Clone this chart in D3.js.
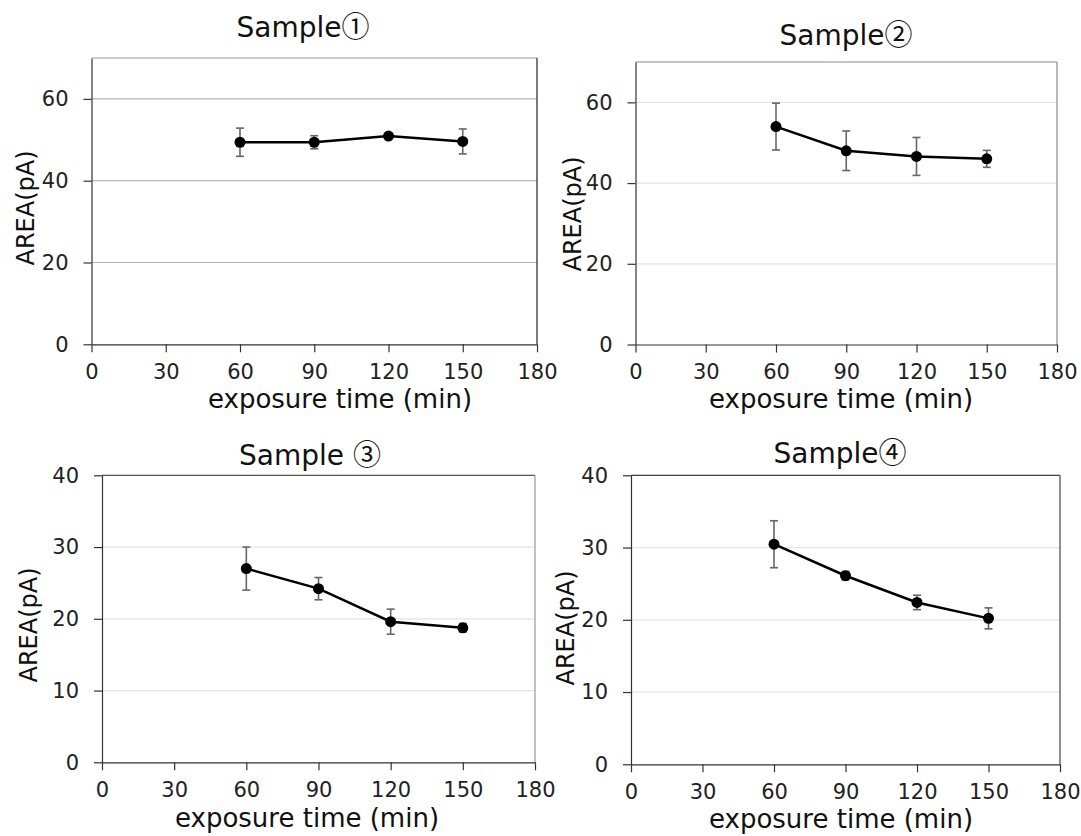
<!DOCTYPE html>
<html>
<head>
<meta charset="utf-8">
<script src="https://cdn.jsdelivr.net/npm/d3@7"></script>
<style>
  body { margin: 0; background: #fff; }
  text { font-family: "DejaVu Sans", sans-serif; }
</style>
</head>
<body>
<div id="chart"></div>
<script>
// data
var titles = ["Sample", "Sample", "Sample ", "Sample"];
var circled = ["①", "②", "③", "④"];
var times = [60, 90, 120, 150];
var xTicks = [0, 30, 60, 90, 120, 150, 180];

var area1 = [49.4, 49.4, 50.9, 49.6];
var err1  = [3.45, 1.6, 0.5, 3.05];
var area2 = [54.0, 48.0, 46.6, 46.0];
var err2  = [5.8, 4.9, 4.7, 2.1];
var area3 = [27.0, 24.2, 19.6, 18.75];
var err3  = [3.0, 1.55, 1.75, 0.6];
var area4 = [30.46, 26.1, 22.4, 20.2];
var err4  = [3.25, 0.6, 1.0, 1.45];

var yMax = [70, 70, 40, 40];
var yTicks1 = [0, 20, 40, 60];
var yTicks2 = [0, 10, 20, 30, 40];

var xLabel = "exposure time (min)";
var yLabel = "AREA(pA)";

// layout of each panel (pixels)
var panels = [
  {vals: area1, errs: err1, ymax: yMax[0], ticks: yTicks1, left: 91.5, right: 537, top: 58, bottom: 344.3,
   titleX: 303, titleY: 37, ylx: 26, yly: 208, xlx: 340, xly: 408, grid: "#b5b5b5", frame: "#9a9a9a", rframe: "#222"},
  {vals: area2, errs: err2, ymax: yMax[1], ticks: yTicks1, left: 635.5, right: 1057, top: 62, bottom: 344.5,
   titleX: 846, titleY: 45, ylx: 573, yly: 214, xlx: 841, xly: 408, grid: "#e3e3e3", frame: "#8a8a8a", rframe: "#8a8a8a"},
  {vals: area3, errs: err3, ymax: yMax[2], ticks: yTicks2, left: 102, right: 535, top: 475.3, bottom: 762.3,
   titleX: 310, titleY: 465, ylx: 29, yly: 625, xlx: 307, xly: 827, grid: "#e3e3e3", frame: "#555", rframe: "#9a9a9a"},
  {vals: area4, errs: err4, ymax: yMax[3], ticks: yTicks2, left: 631, right: 1060, top: 475.3, bottom: 764.3,
   titleX: 840, titleY: 463, ylx: 566, yly: 628, xlx: 841, xly: 828, grid: "#e3e3e3", frame: "#444", rframe: "#444"}
];

var svg = d3.select("#chart").append("svg")
    .attr("width", 1081)
    .attr("height", 836);

panels.forEach(function (p, k) {
    var x = d3.scaleLinear().domain([0, 180]).range([p.left, p.right]);
    var y = d3.scaleLinear().domain([0, p.ymax]).range([p.bottom, p.top]);
    var g = svg.append("g");

    // gridlines
    g.selectAll(".grid")
        .data(p.ticks.filter(function (d) { return d > 0; }))
        .enter().append("line")
        .attr("x1", p.left).attr("x2", p.right)
        .attr("y1", function (d) { return y(d); })
        .attr("y2", function (d) { return y(d); })
        .attr("stroke", p.grid)
        .attr("stroke-width", 1.2);

    // frame top / right
    g.append("line")
        .attr("x1", p.left).attr("x2", p.right)
        .attr("y1", y(p.ymax)).attr("y2", y(p.ymax))
        .attr("stroke", p.frame).attr("stroke-width", 1.2);
    g.append("line")
        .attr("x1", p.right).attr("x2", p.right)
        .attr("y1", y(p.ymax)).attr("y2", y(0))
        .attr("stroke", p.rframe).attr("stroke-width", 1.2);

    var yAxis = g.append("g")
        .attr("transform", "translate(" + p.left + ",0)")
        .call(d3.axisLeft(y).tickValues(p.ticks).tickSize(8).tickSizeOuter(0).tickPadding(15));
    var xAxis = g.append("g")
        .attr("transform", "translate(0," + p.bottom + ")")
        .call(d3.axisBottom(x).tickValues(xTicks).tickSize(8).tickSizeOuter(0).tickPadding(12));

    [yAxis, xAxis].forEach(function (a) {
        a.selectAll("path, line").attr("stroke", "#333").attr("stroke-width", 1.2);
        a.selectAll("text")
            .style("font-family", "'DejaVu Sans', sans-serif")
            .style("font-size", "21px")
            .attr("fill", "#222");
    });

    // error bars
    var eb = g.selectAll(".eb")
        .data(p.vals)
        .enter().append("g")
        .attr("stroke", "#666")
        .attr("stroke-width", 1.6);
    eb.append("line")
        .attr("x1", function (d, i) { return x(times[i]); })
        .attr("x2", function (d, i) { return x(times[i]); })
        .attr("y1", function (d, i) { return y(d + p.errs[i]); })
        .attr("y2", function (d, i) { return y(d - p.errs[i]); });
    eb.append("line")
        .attr("x1", function (d, i) { return x(times[i]) - 4; })
        .attr("x2", function (d, i) { return x(times[i]) + 4; })
        .attr("y1", function (d, i) { return y(d + p.errs[i]); })
        .attr("y2", function (d, i) { return y(d + p.errs[i]); });
    eb.append("line")
        .attr("x1", function (d, i) { return x(times[i]) - 4; })
        .attr("x2", function (d, i) { return x(times[i]) + 4; })
        .attr("y1", function (d, i) { return y(d - p.errs[i]); })
        .attr("y2", function (d, i) { return y(d - p.errs[i]); });

    var line = d3.line()
        .x(function (d, i) { return x(times[i]); })
        .y(function (d) { return y(d); });
    g.append("path")
        .datum(p.vals)
        .attr("d", line)
        .attr("fill", "none")
        .attr("stroke", "#000")
        .attr("stroke-width", 2.5);

    g.selectAll(".dot")
        .data(p.vals)
        .enter().append("circle")
        .attr("cx", function (d, i) { return x(times[i]); })
        .attr("cy", function (d) { return y(d); })
        .attr("r", 5.5)
        .attr("fill", "#000");

    // title
    var t = g.append("text")
        .attr("x", p.titleX)
        .attr("y", p.titleY)
        .attr("text-anchor", "middle")
        .style("font-size", "28px")
        .attr("fill", "#111");
    t.append("tspan").attr("xml:space", "preserve").text(titles[k]);
    t.append("tspan").style("font-family", "'Noto Sans CJK JP'").text(circled[k]);

    g.append("text")
        .attr("transform", "translate(" + p.ylx + "," + p.yly + ") rotate(-90)")
        .attr("text-anchor", "middle")
        .attr("dy", "0.35em")
        .style("font-size", "24px")
        .attr("fill", "#111")
        .text(yLabel);

    g.append("text")
        .attr("x", p.xlx)
        .attr("y", p.xly)
        .attr("text-anchor", "middle")
        .style("font-size", "26px")
        .attr("fill", "#111")
        .text(xLabel);
});
</script>
</body>
</html>
